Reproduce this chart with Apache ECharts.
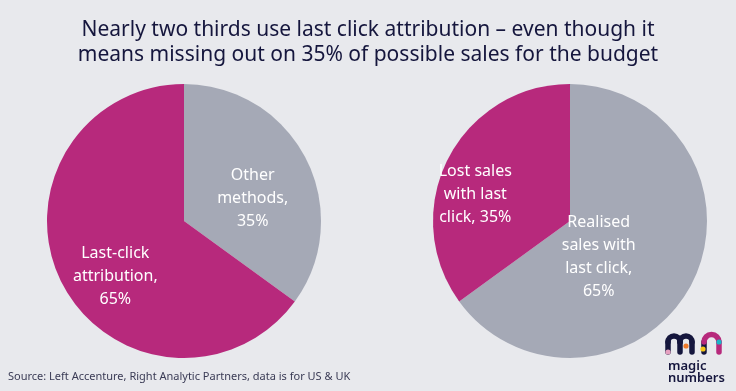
<!DOCTYPE html>
<html><head><meta charset="utf-8">
<script src="https://cdn.jsdelivr.net/npm/echarts@6/dist/echarts.min.js"></script>
<style>html,body{margin:0;padding:0;background:#e8e9ed;}#c{width:736px;height:391px;}</style>
</head><body><div id="c"></div>
<script>
var titleLines = ['Nearly two thirds use last click attribution \u2013 even though it', 'means missing out on 35% of possible sales for the budget'];
var sourceText = 'Source: Left Accenture, Right Analytic Partners, data is for US & UK';
var leftNames = ['Other methods', 'Last-click attribution'];
var leftValues = [35, 65];
var leftLabels = ['Other\nmethods,\n35%', 'Last-click\nattribution,\n65%'];
var rightNames = ['Realised sales with last click', 'Lost sales with last click'];
var rightValues = [65, 35];
var rightLabels = ['Realised\nsales with\nlast click,\n65%', 'Lost sales\nwith last\nclick, 35%'];

var GREY = '#a5a9b6', MAG = '#b7297c', NAVY = '#15163d';
var FONT = '"Noto Sans", sans-serif';

function build(names, values, labels, colors, offsets) {
  return names.map(function (n, i) {
    return {
      name: n, value: values[i],
      itemStyle: { color: colors[i] },
      label: { formatter: labels[i], offset: offsets[i] }
    };
  });
}
function ln(x1, y1, x2, y2, c) {
  return { type: 'line', shape: { x1: x1, y1: y1, x2: x2, y2: y2 }, style: { stroke: c, lineWidth: 5.5, lineCap: 'round' } };
}
function ar(cx, cy, r, c) {
  return { type: 'arc', shape: { cx: cx, cy: cy, r: r, startAngle: Math.PI, endAngle: 2 * Math.PI, clockwise: true }, style: { stroke: c, lineWidth: 5.5, lineCap: 'round', fill: null } };
}

var chart = echarts.init(document.getElementById('c'), null, { renderer: 'canvas' });
var labelStyle = { show: true, position: 'inside', color: '#ffffff', fontSize: 16, lineHeight: 23, fontFamily: FONT, align: 'center' };
chart.setOption({
  backgroundColor: '#e8e9ed',
  animation: false,
  title: {
    text: titleLines.join('\n'), left: 'center', top: 13,
    textStyle: { color: NAVY, fontSize: 21, fontWeight: 'normal', lineHeight: 25, fontFamily: FONT }
  },
  series: [
    {
      type: 'pie', center: [184, 221], radius: 137, startAngle: 90, clockwise: true,
      silent: true, label: labelStyle, labelLine: { show: false },
      itemStyle: { borderWidth: 0 },
      data: build(leftNames, leftValues, leftLabels, [GREY, MAG], [[5, 10], [-5, 23]])
    },
    {
      type: 'pie', center: [570, 221], radius: 137, startAngle: 90, clockwise: true,
      silent: true, label: labelStyle, labelLine: { show: false },
      itemStyle: { borderWidth: 0 },
      data: build(rightNames, rightValues, rightLabels, [GREY, MAG], [[-35, 3], [-31, 6]])
    }
  ],
  graphic: [
    { type: 'text', left: 8, top: 371, style: { text: sourceText, fill: '#3a3b55', fontSize: 11, fontFamily: FONT } },
    ln(668, 342, 668, 352, NAVY), ar(674, 342, 6, NAVY), ln(680, 342, 680, 352, NAVY),
    ar(686, 342, 6, NAVY), ln(692, 342, 692, 352, NAVY), ln(704, 342, 704, 352, NAVY),
    ar(711.5, 342, 7.5, MAG), ln(719, 342, 719, 352, MAG),
    { type: 'circle', shape: { cx: 668, cy: 352, r: 2.6 }, style: { fill: '#e6a0c0' } },
    { type: 'circle', shape: { cx: 686, cy: 346, r: 2.6 }, style: { fill: '#f07a2a' } },
    { type: 'circle', shape: { cx: 703, cy: 349, r: 2.6 }, style: { fill: '#f5c518' } },
    { type: 'circle', shape: { cx: 719, cy: 342, r: 2.6 }, style: { fill: '#1bb5c8' } },
    { type: 'text', left: 668, top: 360, style: { text: 'magic\nnumbers', fill: NAVY, fontSize: 13, lineHeight: 12, fontFamily: FONT, fontWeight: 600 } }
  ]
});
</script>
</body></html>
